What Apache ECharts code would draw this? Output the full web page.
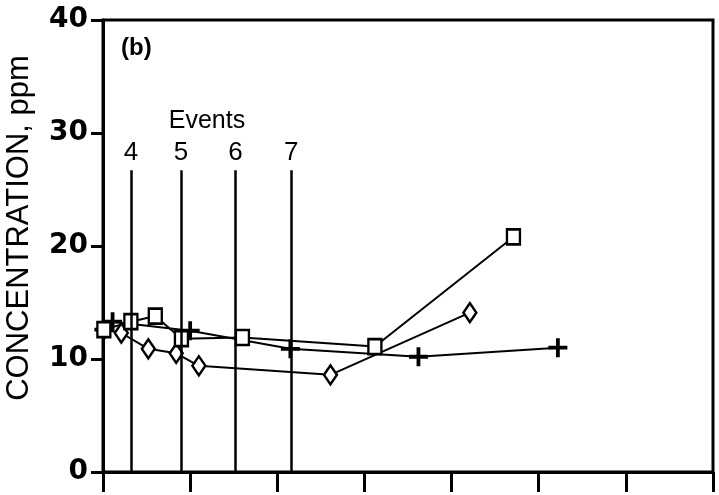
<!DOCTYPE html>
<html>
<head>
<meta charset="utf-8">
<script src="https://cdn.jsdelivr.net/npm/echarts@6/dist/echarts.min.js"></script>
<style>html,body{margin:0;padding:0;background:#fff}#c{width:719px;height:495px}</style>
</head>
<body>
<div id="c"></div>
<script>
// Data (x in axis units, ticks every 1 unit; y in ppm)
const squareX = [0.01, 0.32, 0.60, 0.90, 1.60, 3.12, 4.71];
const squareY = [12.6, 13.3, 13.8, 11.8, 11.9, 11.1, 20.8];
const diamondX = [0.01, 0.21, 0.52, 0.84, 1.10, 2.61, 4.21];
const diamondY = [12.6, 12.3, 10.9, 10.5, 9.4, 8.6, 14.1];
const plusX = [0.01, 0.11, 1.00, 2.15, 3.62, 5.22];
const plusY = [12.6, 13.3, 12.5, 10.9, 10.2, 11.0];
const eventNames = ['4', '5', '6', '7'];
const eventX = [0.32, 0.895, 1.52, 2.16];
const eventTop = 26.7;
const yTicks = [0, 10, 20, 30, 40];
const xTicks = [0, 1, 2, 3, 4, 5, 6, 7];

const zip = (xs, ys) => xs.map((x, i) => [x, ys[i]]);
const plusPath = 'path://M4,0h2v4h4v2h-4v4h-2v-4h-4v-2h4z';
const FONT = 'Liberation Sans, Arial, sans-serif';

const chart = echarts.init(document.getElementById('c'), null, {renderer: 'canvas'});
chart.setOption({
  animation: false,
  backgroundColor: '#fff',
  grid: {left: 103, right: 6, top: 20, bottom: 23, show: true, borderColor: '#000', borderWidth: 3, backgroundColor: 'transparent'},
  xAxis: {
    type: 'value', min: xTicks[0], max: xTicks[xTicks.length - 1], interval: 1,
    axisLine: {lineStyle: {color: '#000', width: 3}},
    axisTick: {show: true, inside: false, length: 20, lineStyle: {color: '#000', width: 3}},
    axisLabel: {show: false},
    splitLine: {show: false}
  },
  yAxis: {
    type: 'value', min: yTicks[0], max: yTicks[yTicks.length - 1], interval: 10,
    axisLine: {lineStyle: {color: '#000', width: 3}},
    axisTick: {show: true, inside: false, length: 12, lineStyle: {color: '#000', width: 3}},
    axisLabel: {color: '#000', fontFamily: 'DejaVu Sans, sans-serif', fontWeight: 'bold', fontSize: 28, margin: 15},
    splitLine: {show: false}
  },
  graphic: [
    {type: 'text', x: 19, y: 228, rotation: Math.PI / 2,
     style: {text: 'CONCENTRATION, ppm', font: '31px ' + FONT, fill: '#000', textAlign: 'center', textVerticalAlign: 'middle'}},
    {type: 'text', x: 121, y: 48,
     style: {text: '(b)', font: 'bold 24px ' + FONT, fill: '#000', textAlign: 'left', textVerticalAlign: 'middle'}},
    {type: 'text', x: 207, y: 121,
     style: {text: 'Events', font: '25px ' + FONT, fill: '#000', textAlign: 'center', textVerticalAlign: 'middle'}}
  ],
  series: [
    {
      type: 'line', name: 'events', data: [], silent: true,
      markLine: {
        symbol: ['none', 'none'], silent: true,
        lineStyle: {color: '#000', width: 2.5, type: 'solid'},
        label: {show: true, position: 'end', distance: 4, color: '#000', fontFamily: FONT, fontSize: 26, formatter: p => p.data.name || p.name},
        data: eventX.map((x, i) => [{xAxis: x, yAxis: 0, name: eventNames[i]}, {xAxis: x, yAxis: eventTop}])
      }
    },
    {
      type: 'line', name: 'plus', data: zip(plusX, plusY),
      lineStyle: {color: '#000', width: 2},
      symbol: plusPath, symbolSize: 19, showAllSymbol: true,
      itemStyle: {color: '#000'}
    },
    {
      type: 'line', name: 'diamond', data: zip(diamondX, diamondY),
      lineStyle: {color: '#000', width: 2},
      symbol: 'diamond', symbolSize: [13, 19], showAllSymbol: true,
      itemStyle: {color: '#fff', borderColor: '#000', borderWidth: 2.5}
    },
    {
      type: 'line', name: 'square', data: zip(squareX, squareY),
      lineStyle: {color: '#000', width: 2},
      symbol: 'rect', symbolSize: [13, 15], showAllSymbol: true,
      itemStyle: {color: '#fff', borderColor: '#000', borderWidth: 2.5}
    }
  ]
});
</script>
</body>
</html>
